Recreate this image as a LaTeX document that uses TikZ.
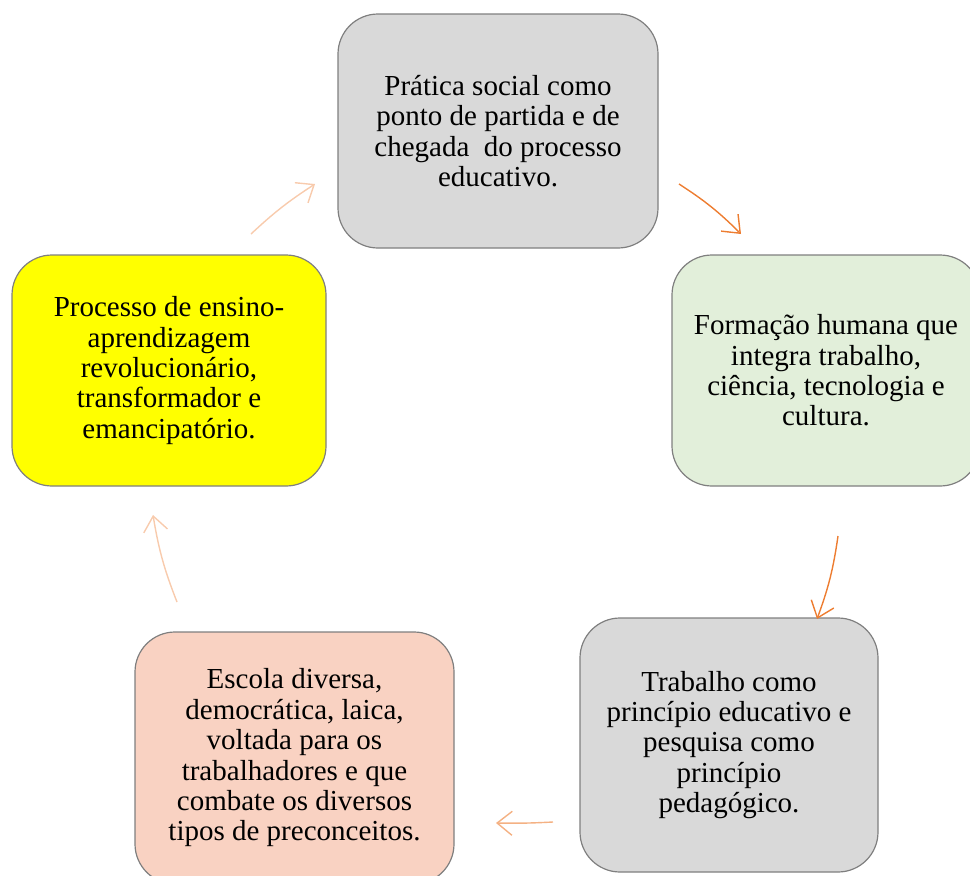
\documentclass[tikz,border=0pt]{standalone}
\usepackage{fontspec}
\setmainfont{Liberation Serif}
\usetikzlibrary{arrows.meta}
\definecolor{boxgray}{HTML}{D9D9D9}
\definecolor{boxgreen}{HTML}{E2EFDA}
\definecolor{boxyellow}{HTML}{FFFF00}
\definecolor{boxsalmon}{HTML}{F9D2C2}
\definecolor{edgegray}{HTML}{7F7F7F}
\definecolor{arrpale}{HTML}{F8CBAD}
\definecolor{arrorange}{HTML}{ED7D31}
\definecolor{arrmid}{HTML}{F4B183}
\tikzset{
  cyclebox/.style={draw=edgegray, line width=1.2pt, rounded corners=40pt,
    align=center, inner sep=0pt,
    font=\fontsize{29}{30.4}\selectfont},
  cyclearrow/.style={line width=1.4pt, -{Straight Barb[length=15pt,width=24pt,line width=1.4pt]}}
}
\begin{document}
\begin{tikzpicture}[x=1pt,y=-1pt]
\useasboundingbox (0,0) rectangle (970,876);
\clip (0,0) rectangle (970,876);
\node[cyclebox, fill=boxgray, minimum width=320pt, minimum height=234pt] (top) at (498,131)
  {Prática social como\\ponto de partida e de\\chegada\ \ do processo\\educativo.};
\node[cyclebox, fill=boxgreen, minimum width=308pt, minimum height=231pt] (right) at (826,370.5)
  {Formação humana que\\integra trabalho,\\ciência, tecnologia e\\cultura.};
\node[cyclebox, fill=boxgray, minimum width=298pt, minimum height=254pt] (br) at (729,745)
  {Trabalho como\\princípio educativo e\\pesquisa como\\princípio\\pedagógico.};
\node[cyclebox, fill=boxsalmon, minimum width=319pt, minimum height=252pt] (bl) at (294.5,758)
  {Escola diversa,\\democrática, laica,\\voltada para os\\trabalhadores e que\\combate os diversos\\tipos de preconceitos.};
\node[cyclebox, fill=boxyellow, minimum width=314pt, minimum height=231pt] (left) at (169,370.5)
  {Processo de ensino-\\aprendizagem\\revolucionário,\\transformador e\\emancipatório.};
\coordinate (a1s) at (251,234); \coordinate (a1e) at (315,184);
\coordinate (a2s) at (679,184); \coordinate (a2e) at (741,234);
\coordinate (a3s) at (838,536); \coordinate (a3e) at (817,619);
\coordinate (a4s) at (553,822); \coordinate (a4e) at (496,823);
\coordinate (a5s) at (177,602); \coordinate (a5e) at (153,515);
\draw[cyclearrow, draw=arrpale] (a1s) to[bend left=5] (a1e);
\draw[cyclearrow, draw=arrorange] (a2s) to[bend left=6] (a2e);
\draw[cyclearrow, draw=arrorange] (a3s) to[bend left=6] (a3e);
\draw[cyclearrow, draw=arrmid] (a4s) to[bend left=2] (a4e);
\draw[cyclearrow, draw=arrpale] (a5s) to[bend left=6] (a5e);
\end{tikzpicture}
\end{document}
